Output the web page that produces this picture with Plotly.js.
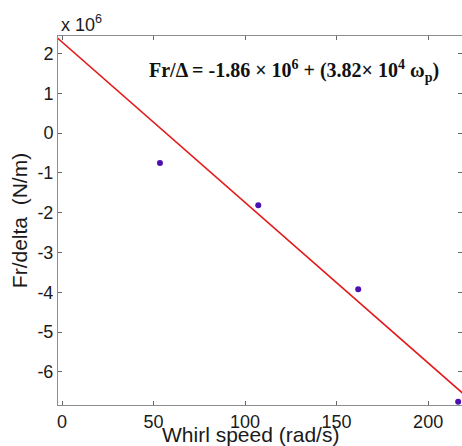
<!DOCTYPE html>
<html>
<head>
<meta charset="utf-8">
<script src="https://cdn.plot.ly/plotly-3.0.1.min.js"></script>
<style>html,body{margin:0;padding:0;background:#fff}#chart{width:462px;height:446px}</style>
</head>
<body>
<div id="chart"></div>
<script>
// Measured whirl speeds (rad/s) and Fr/delta (N/m)
const whirlSpeed = [53.5, 107.2, 161.8, 216.4];
const frDelta = [-0.75e6, -1.81e6, -3.92e6, -6.75e6];
// Fitted line end points
const fitX = [-3, 220];
const fitY = [2.41e6, -6.58e6];
// Tick values / labels
const yTickVals = [-6e6, -5e6, -4e6, -3e6, -2e6, -1e6, 0, 1e6, 2e6];
const yTickText = ['-6', '-5', '-4', '-3', '-2', '-1', '0', '1', '2'];
const xTickVals = [0, 50, 100, 150, 200];

const font = 'Liberation Sans, Arial, sans-serif';
const axisCommon = {
  showgrid: false, zeroline: false, showline: true, linecolor: '#8c8c8c', linewidth: 1,
  mirror: 'ticks', ticks: 'inside', ticklen: 4, tickcolor: '#666', tickwidth: 1,
  tickfont: {family: font, size: 18, color: '#1a1a1a'}
};

const traces = [
  {x: fitX, y: fitY, mode: 'lines', line: {color: '#e21a1a', width: 1.6}, hoverinfo: 'skip'},
  {x: whirlSpeed, y: frDelta, mode: 'markers', marker: {color: '#4a10b0', size: 6}}
];

const layout = {
  width: 462, height: 446,
  margin: {l: 58, r: 0, t: 36, b: 41},
  paper_bgcolor: '#fff', plot_bgcolor: '#fff',
  showlegend: false,
  xaxis: Object.assign({}, axisCommon, {
    range: [-2.2, 218.5], tickvals: xTickVals
  }),
  yaxis: Object.assign({}, axisCommon, {
    range: [-6.83e6, 2.44e6], tickvals: yTickVals, ticktext: yTickText,
    title: {text: 'Fr/delta  (N/m)', font: {family: font, size: 21, color: '#1a1a1a'}, standoff: 4}
  }),
  annotations: [
    {xref: 'paper', yref: 'paper', x: 0.003, y: 1, xanchor: 'left', yanchor: 'bottom', showarrow: false,
     text: 'x 10<sup>6</sup>', font: {family: font, size: 18, color: '#1a1a1a'}, yshift: -1},
    {xref: 'paper', yref: 'paper', x: 0.476, y: -0.0813, xanchor: 'center', yanchor: 'middle', showarrow: false,
     text: 'Whirl speed (rad/s)', font: {family: font, size: 21, color: '#1a1a1a'}},
    {xref: 'paper', yref: 'paper', x: 0.948, y: 0.905, xanchor: 'right', yanchor: 'middle', showarrow: false,
     text: '<b>Fr/Δ = -1.86 × 10<sup>6</sup> + (3.82× 10<sup>4</sup> ω<sub>p</sub>)</b>',
     font: {family: 'Liberation Serif, Times New Roman, serif', size: 20, color: '#111'}}
  ]
};

Plotly.newPlot('chart', traces, layout, {displayModeBar: false, staticPlot: true});
</script>
</body>
</html>
